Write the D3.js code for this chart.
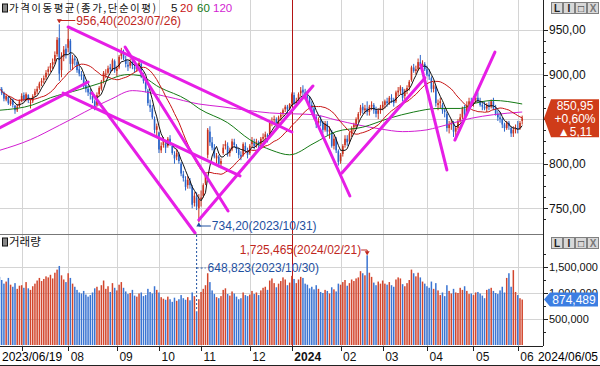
<!DOCTYPE html>
<html lang="ko">
<head>
<meta charset="UTF-8">
<title>가격이동평균</title>
<script src="https://cdn.jsdelivr.net/npm/d3@7"></script>
<style>
  body { margin: 0; background: #fff; }
  svg { display: block; font-family: "Liberation Sans", Arial, sans-serif; font-size: 12px; }
  .kr { font-family: "Noto Sans CJK KR", sans-serif; }
  .grid { stroke: #d4d4d4; stroke-width: 1; shape-rendering: crispEdges; }
  .axis path { display: none; }
  .axis line { stroke: #222; shape-rendering: crispEdges; }
  .axis text { fill: #111; font-size: 12px; }
  .vaxis text { font-size: 11px; }
  .ma { fill: none; stroke-width: 1; }
  .trend { stroke: #e61ee6; stroke-width: 3; stroke-linecap: round; }
</style>
</head>
<body>
<svg id="chart" width="600" height="366"></svg>
<script>
// KOSDAQ daily, 2023/06/19 ~ 2024/06/05
var holidays = ["2023-08-15","2023-09-28","2023-09-29","2023-10-02","2023-10-03","2023-10-09",
  "2023-12-25","2023-12-29","2024-01-01","2024-02-09","2024-02-12","2024-03-01","2024-04-10",
  "2024-05-01","2024-05-06","2024-05-15"];

var opens = [
  886,884,880,872,875,867,872,865,860,865,
  871,877,872,877,869,870,877,881,885,891,894,897,903,907,911,915,923,941,905,920,929,
  930,938,912,918,914,906,900,897,888,884,880,876,870,866,878,884,893,900,902,908,906,915,
  904,908,921,924,917,911,910,914,909,907,911,912,898,892,882,866,862,850,838,
  835,815,821,822,820,828,820,810,808,810,800,788,782,776,780,774,756,762,750,
  760,764,778,810,836,824,818,806,808,800,812,820,820,812,816,824,820,816,810,810,820,814,
  812,822,824,820,824,822,828,830,832,832,846,849,850,845,852,856,861,864,862,
  868,877,868,871,879,883,880,876,874,866,862,852,845,848,846,838,845,836,836,820,828,814,
  803,811,821,828,825,834,841,842,850,857,864,860,862,858,864,866,860,856,860,
  863,866,870,868,874,872,870,880,882,884,876,882,886,894,908,904,906,914,910,912,
  906,900,896,884,886,866,868,866,860,856,840,844,846,836,840,848,852,862,856,866,870,
  868,872,874,870,866,864,862,866,864,870,862,856,852,850,844,840,846,840,834,838,
  840,840,848];
var highs = [
  889,886,881,878,876,874,873,866,867,872,
  879,880,880,878,873,878,884,887,892,896,899,905,909,913,918,926,942,956.4,925,932,934,
  952,940,922,921,916,910,904,900,893,888,884,880,872,880,887,894,904,906,910,912,918,917,
  910,922,930,928,921,916,918,920,915,913,918,914,902,896,884,872,866,853,845,
  836,824,830,826,830,832,822,814,816,813,802,792,786,786,784,776,768,768,766,
  770,778,790,840,842,830,822,812,810,806,822,826,824,818,828,828,822,818,814,824,824,818,
  822,830,828,828,826,830,834,836,834,848,852,854,852,854,858,862,866,866,868,
  880,880,874,880,886,888,884,882,876,870,864,855,852,854,848,848,848,842,838,832,830,816,
  812,822,832,832,836,842,846,852,858,866,868,866,870,866,870,868,864,862,866,
  870,872,874,876,878,874,882,886,888,886,884,888,894,910,912,910,918,922,916,914,
  910,906,898,892,888,872,874,868,862,858,848,850,848,842,850,856,864,866,870,874,874,
  876,878,880,874,870,870,868,870,872,874,866,860,858,852,846,848,848,842,842,844,
  848,848,854];
var lows = [
  879,877,870,870,866,865,863,856,858,863,
  869,870,870,868,862,868,875,878,883,887,890,894,899,903,906,912,920,893,897,915,918,
  925,905,905,910,902,898,894,885,880,876,872,868,860,864,876,882,890,896,900,902,904,902,
  898,906,917,916,908,904,907,906,902,903,908,896,890,880,865,858,850,834,830,
  812,812,818,812,818,820,810,800,804,800,786,780,770,772,772,750,752,748,734.2,
  752,762,776,806,820,815,806,800,796,795,810,816,808,808,814,818,812,806,804,808,812,806,
  810,818,816,818,816,820,824,826,824,830,842,845,840,843,848,853,858,856,860,
  866,866,864,868,876,876,872,870,862,858,850,840,842,842,834,836,832,828,818,816,812,798,
  800,808,818,820,822,830,836,840,846,854,856,856,854,854,860,856,852,850,856,
  860,862,864,866,868,864,868,876,878,870,872,878,882,892,902,900,904,906,904,904,
  898,894,880,880,864,860,862,856,852,836,834,838,830,828,838,846,850,852,854,862,864,
  864,868,868,864,860,860,858,860,862,860,854,848,846,840,836,838,838,830,830,834,
  834,838,844];
var closes = [
  884,879,873,876,868,871,866,860,864,870,
  876,872,878,871,869,876,881,884,890,893,896,902,906,910,914,922,939,901,921,928,922,
  940,912,918,916,905,901,898,887,884,880,878,872,865,877,885,892,902,901,907,906,916,905,
  907,920,924,918,912,909,914,910,906,911,913,898,893,884,868,863,852,838,842,
  816,820,826,818,828,823,812,806,812,803,789,784,774,782,776,754,764,752,760,
  762,776,787,838,824,818,808,809,800,803,818,822,812,815,825,821,816,810,808,822,815,810,
  820,826,820,825,822,828,830,833,829,846,848,850,844,852,855,860,864,861,867,
  878,868,870,878,882,880,876,874,866,862,853,844,848,846,838,845,836,838,820,828,815,802,
  810,820,828,824,834,840,844,850,856,863,860,862,858,864,866,860,856,860,863,
  866,870,868,874,872,868,880,882,886,874,882,885,892,908,904,906,914,910,912,906,
  900,898,884,888,868,868,870,860,858,840,844,846,836,840,848,852,862,856,866,870,868,
  872,874,870,866,864,862,866,864,870,862,856,852,850,844,840,846,842,834,838,840,
  839,845.84,850.95];
var volumes = [
  1310,1250,1180,1220,1290,1160,1120,1190,1080,1140,
  1150,1100,1210,1090,1060,1130,1180,1240,1290,1230,1270,1320,1300,1350,1280,1390,1450,1520,1340,1260,1210,
  1380,1290,1180,1120,1060,1010,990,1040,970,930,960,1010,1090,1120,1050,1150,1240,1080,1130,1020,1190,1100,
  1050,1160,1210,1100,1030,980,1000,1060,950,930,990,1010,940,960,1080,1020,990,1130,1060,
  1010,920,890,870,930,880,830,910,850,880,960,900,870,920,860,1010,940,648.823,880,
  1020,1080,1150,1380,1210,1050,980,920,900,940,1060,1090,980,950,1030,990,930,880,900,1010,960,940,
  970,1040,980,1010,960,1050,1100,1120,1060,1240,1280,1190,1110,1180,1230,1300,1260,1150,1200,
  1330,1270,1190,1260,1310,1290,1180,1160,1090,1120,1070,1150,1080,1020,1000,1060,1040,990,1110,1070,1030,1180,
  1160,1210,1250,1140,1190,1260,1230,1280,1300,1420,1380,1340,1725.465,1390,1310,1200,1150,1220,1180,
  1240,1180,1160,1210,1150,1120,1260,1300,1280,1170,1130,1190,1250,1450,1380,1320,1390,1300,1220,1180,
  1130,1100,1220,1080,1190,1050,960,1010,940,1150,1040,990,1080,1010,1000,1100,1060,1130,1040,980,990,
  960,1010,1020,990,950,900,1060,1080,1100,1040,1000,980,1050,1120,1010,1290,1380,1120,1440,1020,
  960,900,874.489]; // thousand shares

// moving averages 60 / 120 (day index -> value)
var ma60Days = [0,15,23,36,45,58,63,72,85,90,103,113,123,131,142,152,164,176,187,198,208,215,223,236];
var ma60Vals = [860,866,874,883,890,900,899,886,871,862,846,827,815,810,823,836,841,851,858,862,862,868,871,867];
var ma120Days = [0,14,27,50,60,76,90,100,122,142,152,172,182,193,198,213,223,236];
var ma120Vals = [815,827,843,872,882,875,867,864,857,855,849,839,836,838,841,851,855,858];

// trend lines drawn on chart: [dayFrom, priceFrom, dayTo, priceTo]
var trendLines = [
  [0,840.1,40,891.7],
  [31,953.4,132,835.6],
  [28.7,879.3,108.6,786.3],
  [56.7,930.9,103.2,747],
  [41.8,879.3,88.3,722.3],
  [90,736.9,141.5,887.2],
  [138,874.9,158.2,763.8],
  [154.6,789.6,192.1,896.2],
  [190.3,910.7,202,793],
  [205.6,826.6,223.7,925.3]
];

var priceTicks = [750, 800, 850, 900, 950];
var priceLabels = [750, 800, 900, 950];   // 850 sits under the price tag
var volTicks = [500000, 1000000, 1500000];

var red = "#c8321e", blue = "#2a64c8";
var fmtDay = d3.timeFormat("%Y-%m-%d");
var fmtFull = d3.timeFormat("%Y/%m/%d");

var days = d3.timeDay.range(new Date(2023, 5, 19), new Date(2024, 5, 6))
  .filter(function(d) { return d.getDay() % 6 !== 0 && holidays.indexOf(fmtDay(d)) < 0; });

var data = days.map(function(d, i) {
  return { i: i, date: d, o: opens[i], h: highs[i], l: lows[i], c: closes[i], v: volumes[i] * 1000 };
});

var svg = d3.select("#chart");
var W = 543, priceBottom = 234, volBottom = 346;

var x = d3.scaleLinear().domain([0, 236]).range([-0.5, 522.2]);
var yP = d3.scaleLinear().domain([750, 950]).range([208.3, 30]);
var yV = d3.scaleLinear().domain([0, 1500000]).range([345, 267]);

svg.append("defs").append("clipPath").attr("id", "pclip")
  .append("rect").attr("x", 0).attr("y", 0).attr("width", W).attr("height", priceBottom);

// month ticks
var monthIdx = data.filter(function(d, i) { return i > 0 && d.date.getMonth() !== data[i - 1].date.getMonth(); })
  .map(function(d) { return d.i; });

// grid
var grid = svg.append("g");
monthIdx.forEach(function(i) {
  var xx = Math.round(x(i)) + 0.5;
  grid.append("line").attr("class", "grid").attr("x1", xx).attr("x2", xx).attr("y1", 0).attr("y2", volBottom);
});
priceTicks.forEach(function(p) {
  grid.append("line").attr("class", "grid").attr("x1", 0).attr("x2", W).attr("y1", yP(p)).attr("y2", yP(p));
});
volTicks.forEach(function(v) {
  grid.append("line").attr("class", "grid").attr("x1", 0).attr("x2", W).attr("y1", yV(v)).attr("y2", yV(v));
});

// year divider
var yearI = monthIdx.filter(function(i) { return data[i].date.getMonth() === 0; })[0];
svg.append("line").attr("x1", Math.round(x(yearI)) + 0.5).attr("x2", Math.round(x(yearI)) + 0.5)
  .attr("y1", 0).attr("y2", volBottom).attr("stroke", "#b41414").attr("shape-rendering", "crispEdges");

var pg = svg.append("g").attr("clip-path", "url(#pclip)");

// candles
var candle = pg.selectAll("g.candle").data(data).enter().append("g");
candle.append("line")
  .attr("x1", function(d) { return x(d.i); }).attr("x2", function(d) { return x(d.i); })
  .attr("y1", function(d) { return yP(d.h); }).attr("y2", function(d) { return yP(d.l); })
  .attr("stroke", function(d) { return d.c >= d.o ? red : blue; }).attr("stroke-width", 1);
candle.append("rect")
  .attr("x", function(d) { return x(d.i) - 0.8; }).attr("width", 1.6)
  .attr("y", function(d) { return yP(Math.max(d.o, d.c)); })
  .attr("height", function(d) { return Math.max(1, Math.abs(yP(d.o) - yP(d.c))); })
  .attr("fill", function(d) { return d.c >= d.o ? red : blue; });

// moving averages
function sma(n) {
  return data.map(function(d, i) {
    return { i: i, v: d3.mean(closes.slice(Math.max(0, i - n + 1), i + 1)) };
  });
}
var line = d3.line().x(function(d) { return x(d.i); }).y(function(d) { return yP(d.v); });
var smooth = d3.line().curve(d3.curveMonotoneX).x(function(d) { return x(d.i); }).y(function(d) { return yP(d.v); });

pg.append("path").attr("class", "ma").attr("stroke", "#d21ed2")
  .attr("d", smooth(ma120Days.map(function(d, k) { return { i: d, v: ma120Vals[k] }; })));
pg.append("path").attr("class", "ma").attr("stroke", "#157a15")
  .attr("d", smooth(ma60Days.map(function(d, k) { return { i: d, v: ma60Vals[k] }; })));
pg.append("path").attr("class", "ma").attr("stroke", "#c81414").attr("d", line(sma(20)));
pg.append("path").attr("class", "ma").attr("stroke", "#111").attr("d", line(sma(5).slice(4)));

// trend lines
pg.selectAll("line.trend").data(trendLines).enter().append("line").attr("class", "trend")
  .attr("x1", function(d) { return x(d[0]); }).attr("y1", function(d) { return yP(d[1]); })
  .attr("x2", function(d) { return x(d[2]); }).attr("y2", function(d) { return yP(d[3]); });

// volume bars
svg.append("g").selectAll("rect").data(data).enter().append("rect")
  .attr("x", function(d) { return x(d.i) - 0.75; }).attr("width", 1.5)
  .attr("y", function(d) { return yV(d.v); })
  .attr("height", function(d) { return yV(0) - yV(d.v); })
  .attr("fill", function(d) { return d.c >= d.o ? "#d2462d" : "#3a74d2"; });

// high / low markers
var hiD = data.reduce(function(a, b) { return b.h > a.h ? b : a; });
var loD = data.reduce(function(a, b) { return b.l < a.l ? b : a; });
var comma2 = function(v) { return d3.format(".2f")(v).replace(".", ","); };

var hx = x(hiD.i);
svg.append("path").attr("fill", "none").attr("stroke", "#c0281e")
  .attr("d", "M" + hx + "," + (yP(hiD.h) - 2) + "V20.5H" + (hx + 16));
svg.append("path").attr("fill", "#c0281e")
  .attr("d", "M" + (hx - 2.5) + "," + (yP(hiD.h) - 5) + "h5l-2.5,4z");
svg.append("text").attr("x", hx + 17).attr("y", 21).attr("dy", "0.35em").attr("fill", "#c0281e")
  .text(comma2(hiD.h) + "(" + fmtFull(hiD.date) + ")");

var lx = x(loD.i);
svg.append("path").attr("fill", "none").attr("stroke", "#1e50a0")
  .attr("d", "M" + lx + "," + (yP(loD.l) + 1) + "V226H" + (lx + 12));
svg.append("path").attr("fill", "#1e50a0")
  .attr("d", "M" + (lx - 2.5) + "," + (yP(loD.l) + 4) + "h5l-2.5,-4z");
svg.append("text").attr("x", lx + 13).attr("y", 226).attr("dy", "0.35em").attr("fill", "#1e50a0")
  .text(comma2(loD.l) + "(" + fmtFull(loD.date) + ")");

var vMax = data.reduce(function(a, b) { return b.v > a.v ? b : a; });
var vMin = data.reduce(function(a, b) { return b.v < a.v ? b : a; });
var vx = x(vMax.i);
svg.append("path").attr("fill", "none").attr("stroke", "#c0281e")
  .attr("d", "M" + (vx - 6) + ",250H" + vx + "V" + (yV(vMax.v) - 1));
svg.append("path").attr("fill", "#c0281e").attr("d", "M" + (vx - 2.5) + "," + (yV(vMax.v) - 4) + "h5l-2.5,4z");
svg.append("text").attr("x", vx - 6).attr("y", 250).attr("dy", "0.35em").attr("text-anchor", "end")
  .attr("fill", "#c0281e").text(d3.format(",")(Math.round(vMax.v)) + "(" + fmtFull(vMax.date) + ")");

var mx = x(vMin.i);
svg.append("path").attr("fill", "none").attr("stroke", "#1e50a0").attr("stroke-dasharray", "2,2")
  .attr("d", "M" + mx + ",235V" + (yV(vMin.v) - 1) + "M" + mx + ",268H" + (mx + 9));
svg.append("text").attr("x", mx + 11).attr("y", 268).attr("dy", "0.35em").attr("fill", "#1e50a0")
  .text(d3.format(",")(Math.round(vMin.v)) + "(" + fmtFull(vMin.date) + ")");

// frame lines
svg.append("line").attr("x1", 0).attr("x2", W).attr("y1", priceBottom + 0.5).attr("y2", priceBottom + 0.5).attr("stroke", "#777");
svg.append("line").attr("x1", 0).attr("x2", W).attr("y1", volBottom + 0.5).attr("y2", volBottom + 0.5).attr("stroke", "#222");
svg.append("line").attr("x1", W + 0.5).attr("x2", W + 0.5).attr("y1", 0).attr("y2", volBottom).attr("stroke", "#222");
svg.append("line").attr("x1", 0).attr("x2", 600).attr("y1", 365.5).attr("y2", 365.5).attr("stroke", "#222");

// right axes
svg.append("g").attr("class", "axis").attr("transform", "translate(" + W + ",0)")
  .call(d3.axisRight(yP).tickValues(d3.range(737.5, 962.5, 12.5)).tickSize(3).tickFormat(""));
svg.append("g").attr("class", "axis").attr("transform", "translate(" + W + ",0)")
  .call(d3.axisRight(yP).tickValues(priceLabels).tickSize(5).tickPadding(1).tickFormat(comma2));
svg.append("g").attr("class", "axis").attr("transform", "translate(" + W + ",0)")
  .call(d3.axisRight(yV).tickValues(d3.range(250000, 1800000, 250000)).tickSize(3).tickFormat(""));
svg.append("g").attr("class", "axis vaxis").attr("transform", "translate(" + W + ",0)")
  .call(d3.axisRight(yV).tickValues(volTicks).tickSize(5).tickPadding(1).tickFormat(d3.format(",")));

// bottom axis
var xAxis = svg.append("g").attr("class", "axis").attr("transform", "translate(0," + volBottom + ")")
  .call(d3.axisBottom(x).tickValues(monthIdx).tickSize(5).tickFormat(function(i) {
    var d = data[i].date;
    if (d.getMonth() === 6) return "";
    return d.getMonth() === 0 ? d.getFullYear() : d3.timeFormat("%m")(d);
  }));
xAxis.selectAll("text").attr("text-anchor", "start").attr("x", 2).attr("y", 6).attr("dy", "0.71em")
  .attr("font-weight", function(i) { return data[i].date.getMonth() === 0 ? "bold" : null; });
svg.append("text").attr("x", 2).attr("y", 352).attr("dy", "0.71em").text(fmtFull(data[0].date));
svg.append("text").attr("x", 598).attr("y", 352).attr("dy", "0.71em").attr("text-anchor", "end")
  .text(fmtFull(data[data.length - 1].date));

// last value tags
var last = data[data.length - 1], prev = data[data.length - 2];
var ty = yP(last.c);
svg.append("path").attr("fill", "#cf3c19")
  .attr("d", "M544," + ty + "L551," + (ty - 19) + "H599V" + (ty + 19) + "H551Z");
var tagT = svg.append("text").attr("fill", "#fff").attr("text-anchor", "middle");
[comma2(last.c), "+" + comma2((last.c - prev.c) / prev.c * 100) + "%", "\u25B2" + comma2(last.c - prev.c)]
  .forEach(function(s, k) {
    tagT.append("tspan").attr("x", 575).attr("y", ty - 13 + k * 13).attr("dy", "0.35em").text(s);
  });
var vy = yV(last.v);
svg.append("path").attr("fill", "#3c7ee2")
  .attr("d", "M544," + vy + "L550," + (vy - 7) + "H598V" + (vy + 7) + "H550Z");
svg.append("text").attr("fill", "#fff").attr("text-anchor", "middle").attr("x", 574).attr("y", vy).attr("dy", "0.35em")
  .text(d3.format(",")(Math.round(last.v)));

// panel titles
function icon(y) {
  svg.append("rect").attr("x", 2.5).attr("y", y).attr("width", 5).attr("height", 8)
    .attr("fill", "#888").attr("stroke", "#111");
}
icon(4);
var title = svg.append("text").attr("y", 8).attr("dy", "0.35em").attr("font-size", 11.5);
title.append("tspan").attr("class", "kr").attr("x", 9).attr("font-size", 10.5).attr("letter-spacing", 1.5)
  .attr("fill", "#111").text("가격이동평균(종가,단순이평)");
title.append("tspan").attr("x", 171).attr("fill", "#111").text("5");
title.append("tspan").attr("x", 180).attr("fill", "#c81414").text("20");
title.append("tspan").attr("x", 197).attr("fill", "#157a15").text("60");
title.append("tspan").attr("x", 213).attr("fill", "#d21ed2").text("120");
icon(238);
svg.append("text").attr("class", "kr").attr("x", 9).attr("y", 242).attr("dy", "0.35em").attr("font-size", 11.5)
  .attr("fill", "#111").text("거래량");

// window buttons
function buttons(y) {
  ["L", "I", "\u25A1", "X"].forEach(function(s, k) {
    var bx = 551 + k * 12;
    svg.append("rect").attr("x", bx + 0.5).attr("y", y + 0.5).attr("width", 11).attr("height", 11)
      .attr("fill", "#d8d8d8").attr("stroke", "#808080");
    svg.append("text").attr("x", bx + 6).attr("y", y + 6).attr("dy", "0.35em").attr("text-anchor", "middle")
      .attr("font-size", 10).attr("font-weight", "bold").attr("fill", k === 3 ? "#777" : "#222").text(s);
  });
}
buttons(2);
buttons(237);
</script>
</body>
</html>
